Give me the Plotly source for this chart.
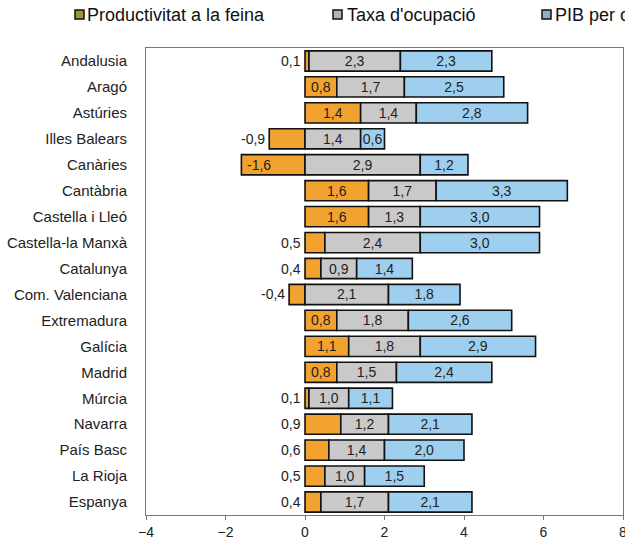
import plotly.graph_objects as go

categories = ["Andalusia", "Aragó", "Astúries", "Illes Balears", "Canàries", "Cantàbria",
              "Castella i Lleó", "Castella-la Manxà", "Catalunya", "Com. Valenciana",
              "Extremadura", "Galícia", "Madrid", "Múrcia", "Navarra", "País Basc",
              "La Rioja", "Espanya"]
productivitat = [0.1, 0.8, 1.4, -0.9, -1.6, 1.6, 1.6, 0.5, 0.4, -0.4, 0.8, 1.1, 0.8, 0.1, 0.9, 0.6, 0.5, 0.4]
ocupacio = [2.3, 1.7, 1.4, 1.4, 2.9, 1.7, 1.3, 2.4, 0.9, 2.1, 1.8, 1.8, 1.5, 1.0, 1.2, 1.4, 1.0, 1.7]
pib = [2.3, 2.5, 2.8, 0.6, 1.2, 3.3, 3.0, 3.0, 1.4, 1.8, 2.6, 2.9, 2.4, 1.1, 2.1, 2.0, 1.5, 2.1]
series_names = ["Productivitat a la feina", "Taxa d'ocupació", "PIB per càpita"]
# which productivity labels sit inside the bar
prod_inside = [False, True, True, False, False, True, True, False, False, False,
               True, True, True, False, False, False, False, False]

FONT = "Liberation Sans, Arial, sans-serif"
C_OR = "#F2A22E"
C_GR = "#C9C9C9"
C_BL = "#9ECFEE"
FS = 14

def fmt(v):
    return f"{v:.1f}".replace(".", ",")

fig = go.Figure()
for vals, name, col, txt in [
    (productivitat, series_names[0], C_OR,
     [fmt(v) if ins else "" for v, ins in zip(productivitat, prod_inside)]),
    (ocupacio, series_names[1], C_GR, [fmt(v) for v in ocupacio]),
    (pib, series_names[2], C_BL, [fmt(v) for v in pib]),
]:
    fig.add_trace(go.Bar(
        y=categories, x=vals, orientation="h", name=name,
        marker=dict(color=col, line=dict(color="#111", width=1.6)),
        text=txt, textposition="inside", insidetextanchor="middle",
        insidetextfont=dict(size=FS, color="#222", family=FONT),
    ))

annotations = []
for c, v, ins in zip(categories, productivitat, prod_inside):
    if ins:
        continue
    if v <= -1.5:
        annotations.append(dict(x=v, y=c, xref="x", yref="y", text=fmt(v), showarrow=False,
                                xanchor="left", xshift=4, font=dict(size=FS, color="#222", family=FONT)))
    else:
        annotations.append(dict(x=min(v, 0), y=c, xref="x", yref="y", text=fmt(v), showarrow=False,
                                xanchor="right", xshift=-2, font=dict(size=FS, color="#222", family=FONT)))

# custom legend (clipped at right edge like the reference)
L, PW = 146, 477
T, PH = 48, 467
def px(x):
    return (x - L) / PW
def py(y):
    return 1 + (T - y) / PH

leg_items = [(75, 85, series_names[0], "#9C9A2E"), (333, 345, series_names[1], "#B4B4B4"),
             (542, 553, series_names[2], "#8FAFC8")]
shapes = []
for sx, tx, name, col in leg_items:
    shapes.append(dict(type="rect", xref="paper", yref="paper", x0=px(sx), x1=px(sx + 9),
                       y0=py(19), y1=py(10), fillcolor=col, line=dict(color="#111", width=1.5)))
    annotations.append(dict(x=px(tx), y=py(15), xref="paper", yref="paper", text=name,
                            showarrow=False, xanchor="left", yanchor="middle",
                            font=dict(size=18, color="#111", family=FONT)))

fig.update_layout(
    width=625, height=547,
    margin=dict(l=146, r=2, t=48, b=32),
    barmode="relative", bargap=0.22,
    showlegend=False,
    plot_bgcolor="white", paper_bgcolor="white",
    font=dict(family=FONT, size=FS, color="#222"),
    annotations=annotations, shapes=shapes,
    uniformtext=dict(minsize=FS, mode="show"),
    xaxis=dict(range=[-4, 8], dtick=2, showgrid=False, zeroline=False, automargin=False,
               showline=True, linecolor="#777", linewidth=1, mirror=True,
               ticks="outside", ticklen=4, tickcolor="#777", ticklabeloverflow="allow",
               tickfont=dict(size=FS, color="#222")),
    yaxis=dict(autorange="reversed", showgrid=False, showline=True, linecolor="#777",
               linewidth=1, mirror=True, ticks="", ticklabelstandoff=15, automargin=False,
               tickfont=dict(size=15, color="#222")),
)

fig.write_html("out.html", config={"displayModeBar": False},
               post_script="document.body.style.margin='0';document.body.style.overflow='hidden';")
